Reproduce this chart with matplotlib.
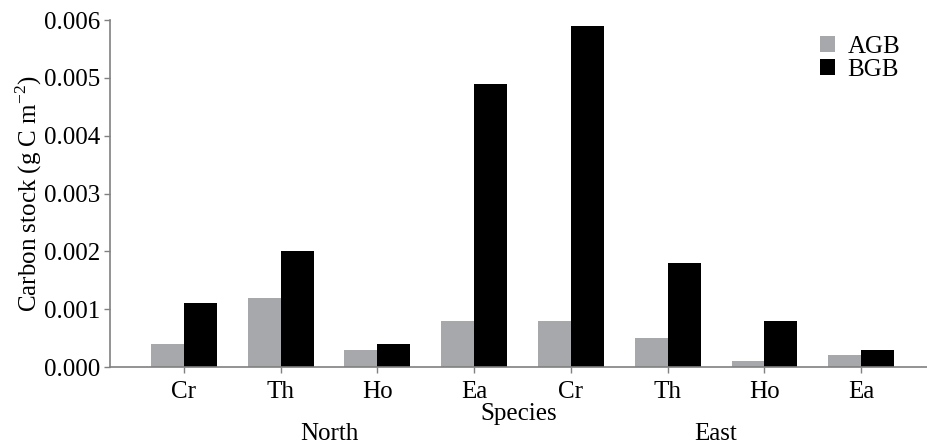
import matplotlib
matplotlib.use('Agg')
import matplotlib.pyplot as plt
import numpy as np

plt.rcParams['font.family'] = ['Liberation Serif', 'DejaVu Serif']
plt.rcParams['mathtext.fontset'] = 'custom'
plt.rcParams['mathtext.rm'] = 'Liberation Serif'

especies = ['Cr', 'Th', 'Ho', 'Ea', 'Cr', 'Th', 'Ho', 'Ea']
sitios = ['North', 'East']
agb = [0.0004, 0.0012, 0.0003, 0.0008, 0.0008, 0.0005, 0.0001, 0.0002]
bgb = [0.0011, 0.0020, 0.0004, 0.0049, 0.0059, 0.0018, 0.0008, 0.0003]

x = np.arange(len(especies))
ancho = 0.34

fig = plt.figure(figsize=(9.27, 4.46), dpi=100)
ax = fig.add_axes([0.119, 0.177, 0.881, 0.778])

ax.bar(x - ancho / 2, agb, ancho, color='#a7a8ab', label='AGB')
ax.bar(x + ancho / 2, bgb, ancho, color='black', label='BGB')

ax.set_xlim(-0.76, 7.68)
ax.set_ylim(0, 0.006)
ax.set_yticks(np.arange(0, 0.0061, 0.001))
ax.set_yticklabels(['%.3f' % v for v in np.arange(0, 0.0061, 0.001)])
ax.set_xticks(x)
ax.set_xticklabels(especies)

for lado in ['top', 'right']:
    ax.spines[lado].set_visible(False)
for lado in ['left', 'bottom']:
    ax.spines[lado].set_color('#808080')
    ax.spines[lado].set_linewidth(1.2)

ax.tick_params(axis='both', labelsize=18, colors='black', length=4, width=1,
               direction='out')
ax.tick_params(axis='both', color='#808080')
ax.tick_params(axis='x', pad=6)
ax.tick_params(axis='y', pad=3)

ax.set_ylabel('Carbon stock (g C m$^{-2}$)', fontsize=18, labelpad=0)
ax.set_xlabel('Species', fontsize=18, labelpad=0)

for i, sitio in enumerate(sitios):
    centro = x[i * 4:(i + 1) * 4].mean()
    ax.text(centro, -0.00116, sitio, ha='center', va='center', fontsize=18,
            transform=ax.transData, clip_on=False)

ax.legend(loc='upper right', bbox_to_anchor=(0.995, 1.02), frameon=False,
          fontsize=18, handlelength=0.6, handleheight=0.6, handletextpad=0.5,
          labelspacing=0.05)

fig.savefig('out.png', dpi=100)
